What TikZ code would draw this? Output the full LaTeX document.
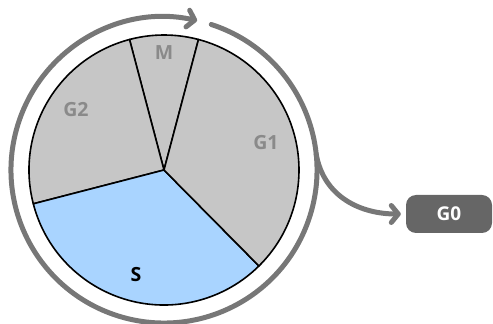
\documentclass[tikz,border=0pt]{standalone}
\usepackage{fontspec}
\setmainfont{Open Sans}
\usepackage{tikz}
\usetikzlibrary{arrows.meta,positioning,calc}
\definecolor{slicegrey}{HTML}{C6C6C6}
\definecolor{sliceblue}{HTML}{A9D4FF}
\definecolor{ringc}{HTML}{777777}
\definecolor{labc}{HTML}{8A8A8A}
\definecolor{tagc}{HTML}{666666}
\tikzset{
  slice/.style={draw=black,line width=1.6pt,fill=slicegrey,line join=round},
  sliceb/.style={slice,fill=sliceblue},
  plab/.style={font=\bfseries\fontsize{19.5}{19.5}\selectfont,text=labc,inner sep=0pt},
  plabs/.style={plab,text=black},
  ringline/.style={draw=ringc,line width=5pt,line cap=round,
    -{Straight Barb[length=7pt,width=17pt,round]}},
  tag/.style={fill=tagc,rounded corners=10pt,minimum width=86pt,minimum height=38pt,
    inner sep=0pt,text=white,font=\bfseries\fontsize{19}{19}\selectfont},
}
\begin{document}
\begin{tikzpicture}[x=1pt,y=1pt]
  \useasboundingbox (0,0) rectangle (493,324);
  \coordinate (c) at (164,154);
  % pie
  \draw[slice] (c) -- ++(75.2:135) arc[start angle=75.2,end angle=104.8,radius=135] -- cycle;
  \draw[slice] (c) -- ++(104.8:135) arc[start angle=104.8,end angle=194.5,radius=135] -- cycle;
  \draw[sliceb] (c) -- ++(194.5:135) arc[start angle=194.5,end angle=314.7,radius=135] -- cycle;
  \draw[slice] (c) -- ++(-45.3:135) arc[start angle=-45.3,end angle=75.2,radius=135] -- cycle;
  \node[plab] (m) at (164,271) {M};
  \node[plab] (g2) at (76,214) {G2};
  \node[plab] (g1) at (266,181) {G1};
  \node[plabs] (s) at (136,49) {S};
  % cycle ring and exit
  \node[tag] (g0) at (449,110) {G0};
  \draw[ringline] ($(c)+(72:153)$) arc[start angle=72,end angle=-282.5,radius=153];
  \coordinate (split) at ($(c)+(6:153)$);
  \draw[ringline,shorten >=5pt] (split) to[out=-80,in=180,looseness=1.05] (g0.west);
\end{tikzpicture}
\end{document}
